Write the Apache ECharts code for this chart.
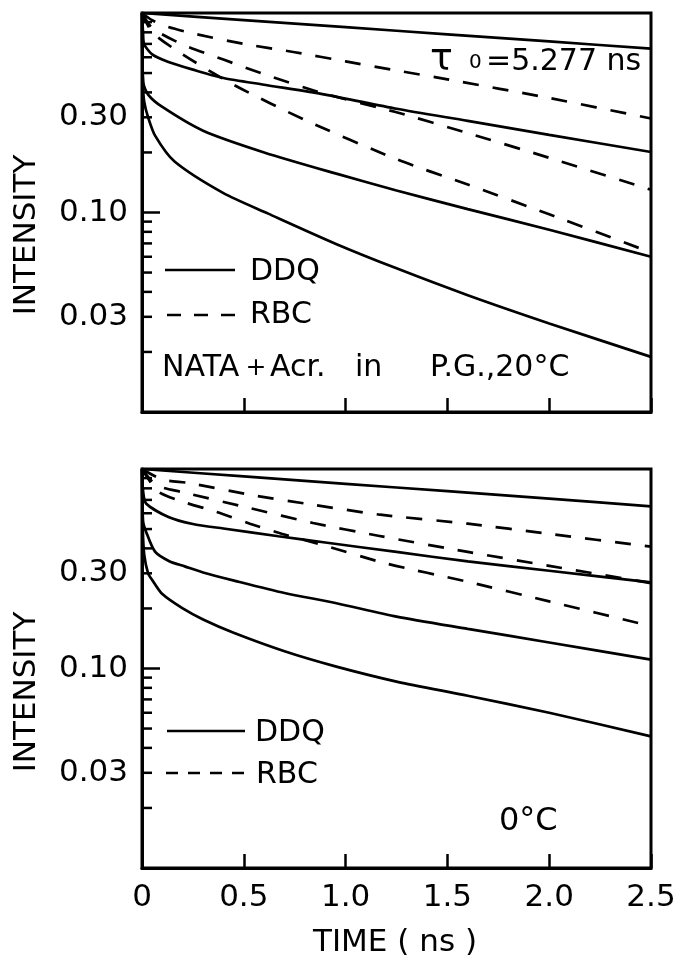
<!DOCTYPE html>
<html>
<head>
<meta charset="utf-8">
<title>NATA + Acr. in P.G. - intensity decay</title>
<script src="https://cdn.jsdelivr.net/npm/echarts@6/dist/echarts.min.js"></script>
<style>
  html, body { margin: 0; padding: 0; background: #fff; }
  #chart { width: 689px; height: 963px; }
</style>
</head>
<body>
<div id="chart"></div>
<script>
// y axis: labelled ticks and the small ones between them
const yLabelValues = [0.03, 0.1, 0.3]
const yLabelTexts = ['0.03', '0.10', '0.30']
const yMinorValues = [0.02, 0.04, 0.05, 0.06, 0.07, 0.08, 0.09, 0.2, 0.4, 0.5, 0.6, 0.7, 0.8, 0.9]

// 20°C panel, points are [time (ns), intensity]
const tau0At20 = [[0, 1.0], [0.5, 0.921], [1.0, 0.849], [1.5, 0.782], [2.0, 0.72], [2.5, 0.663]]
const ddqAt20 = [
  [[0, 1.0], [0.005, 0.8], [0.01, 0.7], [0.05, 0.62], [0.13, 0.568], [0.25, 0.52], [0.4, 0.472], [0.6, 0.437], [0.9, 0.39], [1.25, 0.331], [1.6, 0.288], [2.0, 0.245], [2.5, 0.201]],
  [[0, 1.0], [0.006, 0.45], [0.03, 0.39], [0.1, 0.338], [0.3, 0.257], [0.6, 0.2], [0.95, 0.157], [1.25, 0.129], [1.6, 0.104], [2.0, 0.082], [2.5, 0.06]],
  [[0, 1.0], [0.004, 0.45], [0.011, 0.358], [0.03, 0.3], [0.065, 0.242], [0.16, 0.18], [0.4, 0.125], [0.62, 0.0987], [0.95, 0.0698], [1.25, 0.0525], [1.6, 0.0385], [2.0, 0.0278], [2.5, 0.0189]]
]
const rbcAt20 = [
  [[0, 1.0], [0.05, 0.92], [0.13, 0.85], [0.25, 0.79], [0.5, 0.7], [0.75, 0.636], [1.0, 0.572], [1.25, 0.515], [1.5, 0.465], [2.0, 0.375], [2.5, 0.296]],
  [[0, 1.0], [0.05, 0.84], [0.2, 0.695], [0.4, 0.584], [0.6, 0.493], [0.9, 0.393], [1.25, 0.318], [1.6, 0.25], [2.0, 0.188], [2.5, 0.13]],
  [[0, 1.0], [0.05, 0.8], [0.2, 0.62], [0.45, 0.437], [0.8, 0.291], [1.25, 0.185], [1.6, 0.138], [2.0, 0.098], [2.5, 0.063]]
]

// 0°C panel
const tau0At0 = [[0, 1.0], [0.5, 0.918], [1.0, 0.843], [1.5, 0.774], [2.0, 0.71], [2.5, 0.65]]
const ddqAt0 = [
  [[0, 1.0], [0.005, 0.78], [0.02, 0.672], [0.13, 0.575], [0.25, 0.53], [0.4, 0.503], [0.67, 0.46], [0.9, 0.428], [1.25, 0.384], [1.6, 0.344], [2.0, 0.309], [2.5, 0.27]],
  [[0, 1.0], [0.005, 0.55], [0.02, 0.485], [0.064, 0.385], [0.134, 0.345], [0.21, 0.325], [0.3, 0.303], [0.457, 0.275], [0.7, 0.239], [0.95, 0.213], [1.25, 0.182], [1.6, 0.158], [2.0, 0.135], [2.5, 0.1107]],
  [[0, 1.0], [0.004, 0.5], [0.011, 0.371], [0.03, 0.3], [0.05, 0.278], [0.1, 0.236], [0.2, 0.2], [0.3, 0.176], [0.45, 0.151], [0.7, 0.122], [0.95, 0.1025], [1.25, 0.086], [1.6, 0.073], [2.0, 0.06], [2.5, 0.0457]]
]
const rbcAt0 = [
  [[0, 1.0], [0.1, 0.885], [0.23, 0.851], [0.53, 0.743], [0.84, 0.662], [1.17, 0.59], [1.6, 0.532], [2.0, 0.473], [2.5, 0.408]],
  [[0, 1.0], [0.07, 0.83], [0.195, 0.767], [0.53, 0.637], [0.84, 0.536], [1.16, 0.463], [1.6, 0.384], [2.0, 0.327], [2.5, 0.268]],
  [[0, 1.0], [0.08, 0.77], [0.195, 0.688], [0.367, 0.609], [0.53, 0.532], [0.686, 0.474], [0.883, 0.417], [1.2, 0.336], [1.6, 0.272], [2.0, 0.217], [2.5, 0.163]]
]

const FONT = 'DejaVu Sans'
const yTickValues = yMinorValues.concat(yLabelValues)

function curve(data, dashed, idx) {
  return {
    type: 'line',
    xAxisIndex: idx,
    yAxisIndex: idx,
    data: data,
    showSymbol: false,
    smooth: 0.25,
    silent: true,
    lineStyle: { color: '#000', width: 2.7, type: dashed ? [16, 14] : 'solid' }
  }
}

// log axis ticks at 0.02, 0.03 ... drawn through the axis scale
function yTicks(idx) {
  return {
    type: 'custom',
    xAxisIndex: idx,
    yAxisIndex: idx,
    silent: true,
    clip: false,
    data: yTickValues.map((v) => [0, v]),
    renderItem: (params, api) => {
      const v = api.value(1)
      const p = api.coord([0, v])
      const len = v === 0.1 ? 18 : 10
      const children = [{
        type: 'line',
        shape: { x1: p[0], y1: p[1], x2: p[0] + len, y2: p[1] },
        style: { stroke: '#000', lineWidth: 2.5 }
      }]
      const k = yLabelValues.indexOf(v)
      if (k >= 0) {
        children.push({
          type: 'text',
          x: p[0] - 14,
          y: p[1],
          style: {
            text: yLabelTexts[k],
            align: 'right',
            verticalAlign: 'middle',
            font: '31px ' + FONT,
            fill: '#000'
          }
        })
      }
      return { type: 'group', children: children }
    }
  }
}

function xAxisOf(idx, showLabel) {
  return {
    gridIndex: idx,
    type: 'value',
    min: 0,
    max: 2.5,
    interval: 0.5,
    axisLine: { lineStyle: { color: '#000', width: 3 } },
    axisTick: { inside: true, length: 14, lineStyle: { color: '#000', width: 2.5 } },
    splitLine: { show: false },
    axisLabel: {
      show: showLabel,
      margin: 14,
      color: '#000',
      fontFamily: FONT,
      fontSize: 31,
      formatter: (v) => (v === 0 ? '0' : v.toFixed(1))
    }
  }
}

function yAxisOf(idx) {
  return {
    gridIndex: idx,
    type: 'log',
    logBase: 10,
    min: 0.01,
    max: 1,
    axisLine: { show: true, lineStyle: { color: '#000', width: 3 } },
    axisTick: { show: false },
    axisLabel: { show: false },
    splitLine: { show: false },
    minorTick: { show: false }
  }
}

function txt(x, y, text, size, align, vAlign, extra) {
  return Object.assign({
    type: 'text',
    x: x,
    y: y,
    silent: true,
    style: {
      text: text,
      font: size + 'px ' + FONT,
      fill: '#000',
      textAlign: align || 'left',
      textVerticalAlign: vAlign || 'middle'
    }
  }, extra || {})
}

function hline(x1, x2, y, dash) {
  return {
    type: 'line',
    silent: true,
    shape: { x1: x1, y1: y, x2: x2, y2: y },
    style: { stroke: '#000', lineWidth: 2.6, lineDash: dash || null }
  }
}

const series = []
series.push(curve(tau0At20, false, 0))
ddqAt20.forEach((d) => series.push(curve(d, false, 0)))
rbcAt20.forEach((d) => series.push(curve(d, true, 0)))
series.push(yTicks(0))
series.push(curve(tau0At0, false, 1))
ddqAt0.forEach((d) => series.push(curve(d, false, 1)))
rbcAt0.forEach((d) => series.push(curve(d, true, 1)))
series.push(yTicks(1))

const chart = echarts.init(document.getElementById('chart'))
chart.setOption({
  animation: false,
  backgroundColor: '#fff',
  grid: [
    { left: 142, top: 13, width: 509, height: 399, show: true, borderColor: '#000', borderWidth: 3 },
    { left: 142, top: 469, width: 509, height: 399, show: true, borderColor: '#000', borderWidth: 3 }
  ],
  xAxis: [xAxisOf(0, false), xAxisOf(1, true)],
  yAxis: [yAxisOf(0), yAxisOf(1)],
  series: series,
  graphic: [
    // axis titles
    txt(27, 235, 'INTENSITY', 31, 'center', 'middle', { rotation: Math.PI / 2 }),
    txt(27, 692, 'INTENSITY', 31, 'center', 'middle', { rotation: Math.PI / 2 }),
    txt(395, 943, 'TIME ( ns )', 31, 'center'),

    // top panel legend and notes
    hline(165, 235, 270),
    txt(250, 272, 'DDQ', 30),
    hline(167, 236, 315, [14, 13]),
    txt(250, 315, 'RBC', 30),
    txt(430, 60, 'τ', 38),
    txt(469, 73, '0', 20, 'left', 'bottom'),
    txt(486, 62, '=5.277 ns', 30),
    txt(162, 368, 'NATA', 30),
    txt(256, 368, '+', 25, 'center'),
    txt(270, 368, 'Acr.', 30),
    txt(355, 368, 'in', 30),
    txt(430, 368, 'P.G.,20°C', 30),

    // bottom panel legend and note
    hline(167, 245, 731),
    txt(255, 733, 'DDQ', 30),
    hline(166, 244, 773, [12, 10]),
    txt(256, 775, 'RBC', 30),
    txt(499, 822, '0°C', 32)
  ]
})
</script>
</body>
</html>
